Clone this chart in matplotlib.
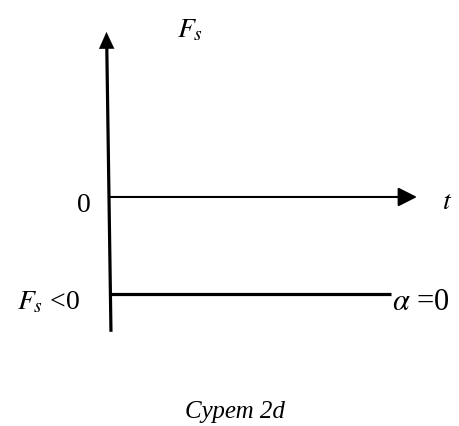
import matplotlib
matplotlib.use("Agg")
import matplotlib.pyplot as plt

plt.rcParams['mathtext.fontset'] = 'stix'
plt.rcParams['font.family'] = ['Liberation Serif', 'DejaVu Serif']

# data: force levels and time span
t_span = [0, 10]          # length of the drawn F_s<0 line
t_axis_end = 10.92        # arrow tip of t-axis
F_axis_top = 1.73         # arrow tip of F_s axis
F_axis_bottom = -1.39
F_levels = [0, -1]        # t-axis (F=0) and negative force level
level_labels = ['0', r'$F_s$ <0']
right_label = r'$\alpha$ =0'
caption = 'Сурет 2d'

fig = plt.figure(figsize=(4.6, 4.27), dpi=100)
ax = fig.add_axes([0, 0, 1, 1])
ax.set_xlim(-3.865, 12.447)
ax.set_ylim(-2.361, 2.041)
ax.axis('off')

# vertical F_s axis (slightly slanted as in the original sketch)
ax.plot([0.07, -0.08], [F_axis_bottom, F_axis_top - 0.15], color='black', lw=2.3,
        solid_capstyle='butt')
ax.annotate('', xy=(-0.09, F_axis_top), xytext=(-0.08, F_axis_top - 0.3),
            arrowprops=dict(arrowstyle='-|>,head_length=1.2,head_width=0.55',
                            mutation_scale=10, color='black', lw=0.1))

# horizontal t axis
ax.annotate('', xy=(t_axis_end, F_levels[0]), xytext=(0, F_levels[0]),
            arrowprops=dict(arrowstyle='-|>,head_length=1.15,head_width=0.58',
                            mutation_scale=10, color='black', lw=1.5,
                            shrinkA=0, shrinkB=0))

# F_s < 0 constant line
ax.plot(t_span, [F_levels[1], F_levels[1]], color='black', lw=2.3,
        solid_capstyle='butt')

# labels
ax.text(-0.887, F_levels[0] - 0.082, level_labels[0], fontsize=20,
        ha='center', va='center')
ax.text(-1.03, F_levels[1] - 0.082, level_labels[1], fontsize=20,
        ha='right', va='center')
ax.text(t_span[1] + 0.04, F_levels[1] - 0.082, right_label, fontsize=22,
        ha='left', va='center')
ax.text(11.99, F_levels[0] - 0.05, r'$t$', fontsize=20, ha='center', va='center')
ax.text(2.41, F_axis_top, r'$F_s$', fontsize=20, ha='left', va='center')

fig.text(235 / 460, 1 - 418 / 427, caption, fontsize=18, style='italic',
         ha='center', va='baseline')

fig.savefig('out.png', dpi=100)
